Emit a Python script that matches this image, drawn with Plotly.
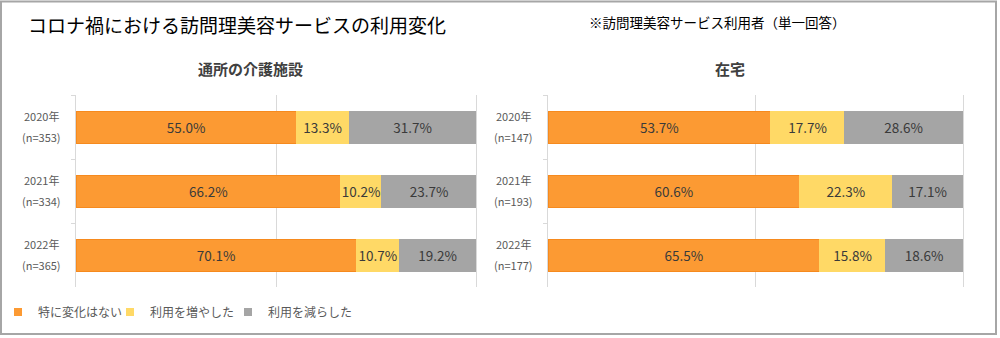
import plotly.graph_objects as go

# ---- data ----
years = ["2020年", "2021年", "2022年"]
n_facility = [353, 334, 365]
n_home = [147, 193, 177]

series_names = ["特に変化はない", "利用を増やした", "利用を減らした"]
facility_nochange = [55.0, 66.2, 70.1]
facility_increase = [13.3, 10.2, 10.7]
facility_decrease = [31.7, 23.7, 19.2]
home_nochange = [53.7, 60.6, 65.5]
home_increase = [17.7, 22.3, 15.8]
home_decrease = [28.6, 17.1, 18.6]

panel_titles = ["通所の介護施設", "在宅"]
main_title = "コロナ禍における訪問理美容サービスの利用変化"
sub_title = "※訪問理美容サービス利用者（単一回答）"

colors = ["#FC9A33", "#FFD966", "#A5A5A5"]
line_colors = ["#F68A1E", "#FFD966", "#A5A5A5"]

FONT = "Noto Sans CJK JP"
W, H = 1000, 338

fig = go.Figure()

panels = [
    ("x", "y", [facility_nochange, facility_increase, facility_decrease], n_facility),
    ("x2", "y2", [home_nochange, home_increase, home_decrease], n_home),
]

for pi, (xa, ya, vals, ns) in enumerate(panels):
    for si, (name, v) in enumerate(zip(series_names, vals)):
        fig.add_trace(go.Bar(
            x=v, y=years, orientation="h", name=name,
            xaxis=xa, yaxis=ya,
            marker=dict(color=colors[si], line=dict(color=line_colors[si], width=1)),
            texttemplate="%{x:.1f}%", textposition="inside",
            insidetextanchor="middle", constraintext="none",
            textfont=dict(family=FONT, size=13.5, color="#3A3A3A"),
            showlegend=False, legendgroup=name,
            hoverinfo="skip",
        ))
    # category labels (two lines, wide spacing)
    for yr, n in zip(years, ns):
        fig.add_annotation(xref=f"{xa} domain", yref=ya, x=0, y=yr,
                           text=yr, showarrow=False, xanchor="center", yanchor="middle",
                           xshift=-35, yshift=11,
                           font=dict(family=FONT, size=11, color="#595959"))
        fig.add_annotation(xref=f"{xa} domain", yref=ya, x=0, y=yr,
                           text=f"(n={n})", showarrow=False, xanchor="center", yanchor="middle",
                           xshift=-35, yshift=-10,
                           font=dict(family=FONT, size=11, color="#595959"))

# legend entries with small square symbols, one legend per entry for precise spacing
legend_ids = ["legend", "legend2", "legend3"]
legend_x_px = [-2, 110, 228]
for si, name in enumerate(series_names):
    fig.add_trace(go.Scatter(
        x=[None], y=[None], mode="markers", name=name, legendgroup=name,
        marker=dict(symbol="square", size=8, color=colors[si]),
        xaxis="x", yaxis="y", showlegend=True, hoverinfo="skip",
        legend=legend_ids[si],
    ))

y_dom = [1 - 287 / H, 1 - 95 / H]
axis_common = dict(range=[0, 100], dtick=50, showgrid=True, gridcolor="#D9D9D9",
                   gridwidth=1, zeroline=False, showticklabels=False, fixedrange=True)
yaxis_common = dict(categoryorder="array", categoryarray=years, autorange="reversed",
                    showticklabels=False, ticks="outside", tickson="boundaries",
                    ticklen=4, tickcolor="#D9D9D9", showgrid=False,
                    showline=True, mirror=True, linecolor="#D9D9D9", linewidth=1,
                    zeroline=False, domain=y_dom, fixedrange=True)

legend_common = dict(orientation="h", y=1 - 312 / H, xanchor="left", yanchor="middle",
                     font=dict(family=FONT, size=12, color="#595959"),
                     itemclick=False, itemdoubleclick=False,
                     bgcolor="rgba(0,0,0,0)")

fig.update_layout(
    width=W, height=H,
    margin=dict(l=0, r=0, t=0, b=0, autoexpand=False),
    paper_bgcolor="white", plot_bgcolor="white",
    barmode="stack", bargap=0.5,
    font=dict(family=FONT, color="#595959"),
    uniformtext=dict(minsize=13, mode="show"),
    xaxis=dict(domain=[76 / W, 476 / W], anchor="y", **axis_common),
    xaxis2=dict(domain=[548 / W, 963 / W], anchor="y2", **axis_common),
    yaxis=dict(anchor="x", **yaxis_common),
    yaxis2=dict(anchor="x2", **yaxis_common),
    legend=dict(x=legend_x_px[0] / W, **legend_common),
    legend2=dict(x=legend_x_px[1] / W, **legend_common),
    legend3=dict(x=legend_x_px[2] / W, **legend_common),
    shapes=[dict(type="rect", xref="paper", yref="paper",
                 x0=1 / W, x1=996 / W, y0=1 - 334 / H, y1=1 - 1.5 / H,
                 line=dict(color="#A6A6A6", width=2), fillcolor="rgba(0,0,0,0)", layer="below")],
)

fig.add_annotation(xref="paper", yref="paper", x=26 / W, y=1 - 24 / H, text=main_title,
                   showarrow=False, xanchor="left", yanchor="middle",
                   font=dict(family=FONT, size=19, color="#000000"))
fig.add_annotation(xref="paper", yref="paper", x=587 / W, y=1 - 22 / H, text=sub_title,
                   showarrow=False, xanchor="left", yanchor="middle",
                   font=dict(family=FONT, size=13.5, color="#000000"))
for t, cx in zip(panel_titles, [250, 730]):
    fig.add_annotation(xref="paper", yref="paper", x=cx / W, y=1 - 68 / H, text=f"<b>{t}</b>",
                       showarrow=False, xanchor="center", yanchor="middle",
                       font=dict(family=FONT, size=15, color="#404040"))

fig.write_html("out.html")
